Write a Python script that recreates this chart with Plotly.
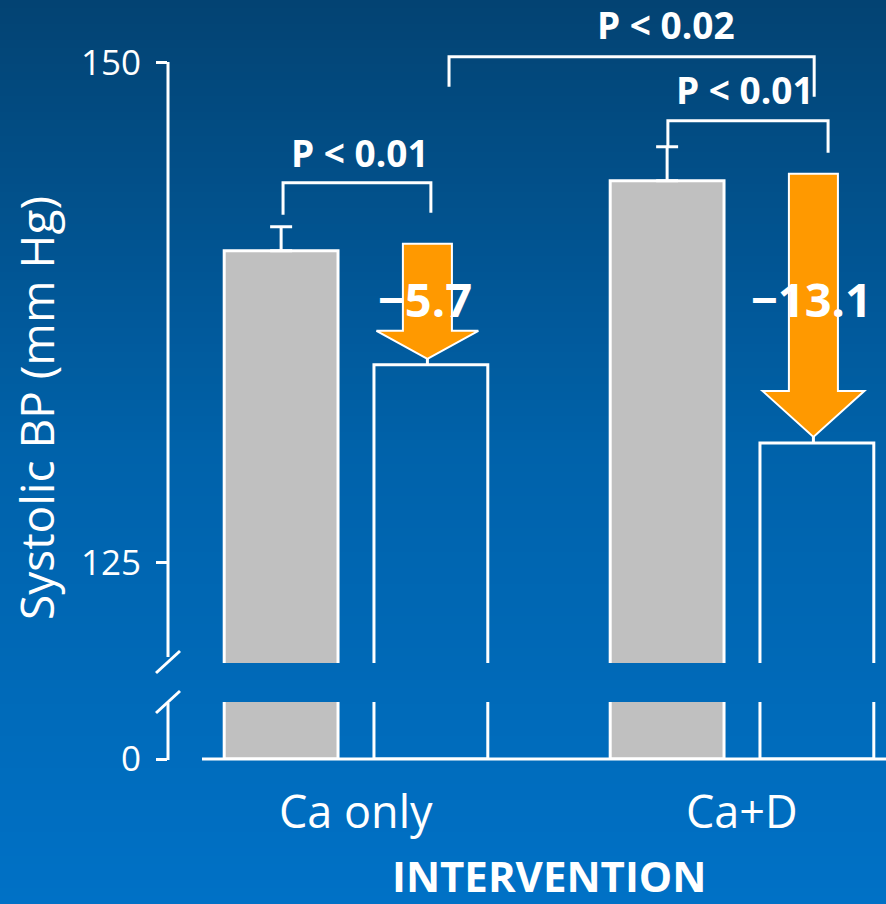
import plotly.graph_objects as go

# ---------------- data ----------------
categories = ["Ca only", "Ca+D"]
baseline_bp = [140.6, 144.1]      # grey bars (before)
followup_bp = [134.9, 131.0]      # open bars (after)
baseline_err = [1.2, 1.7]         # upper error bars on grey bars
change_labels = ["\u22125.7", "\u221213.1"]
top_ticks = [125, 150]
bottom_ticks = [0]
p_labels = ["P < 0.01", "P < 0.01", "P < 0.02"]

# ---------------- geometry helpers ----------------
W, H = 886, 904
FONT = "Open Sans"
WHITE = "white"
ORANGE = "#FF9900"
GREY = "#c0c0c0"


def px(x):
    return x / W


def py(y):
    return 1 - y / H


xpos = list(range(len(categories)))
x_left = (168 - 356) / 386
x_right = (W - 356) / 386

fig = go.Figure()

for yax in ["y", "y2"]:
    fig.add_trace(go.Bar(
        x=xpos, y=baseline_bp, yaxis=yax, showlegend=False, hoverinfo="skip",
        marker=dict(color=GREY, line=dict(color=WHITE, width=3)),
        error_y=(dict(type="data", array=baseline_err, arrayminus=[0] * len(baseline_err),
                      symmetric=False, color=WHITE, thickness=3, width=11)
                 if yax == "y" else dict(visible=False)),
    ))
    fig.add_trace(go.Bar(
        x=xpos, y=followup_bp, yaxis=yax, showlegend=False, hoverinfo="skip",
        marker=dict(color="rgba(0,0,0,0)", line=dict(color=WHITE, width=3)),
    ))

shapes = []

# background gradient (vertical)
stops = [(0, (3, 67, 115)), (450, (0, 98, 170)), (H, (0, 113, 198))]


def grad_color(y):
    for (y0, c0), (y1, c1) in zip(stops[:-1], stops[1:]):
        if y0 <= y <= y1:
            t = (y - y0) / (y1 - y0)
            return "rgb(%d,%d,%d)" % tuple(round(a + (b - a) * t) for a, b in zip(c0, c1))
    return "rgb(%d,%d,%d)" % stops[-1][1]


step = 8
for y in range(0, H, step):
    shapes.append(dict(type="rect", xref="paper", yref="paper", layer="below",
                       x0=0, x1=1, y0=py(min(y + step + 1, H)), y1=py(y),
                       fillcolor=grad_color(y + step / 2), line=dict(width=0)))

axis_line = dict(color=WHITE, width=3)
# y-axis line segments with break marks
shapes.append(dict(type="line", xref="paper", yref="paper", x0=px(168), x1=px(168),
                   y0=py(62), y1=py(657), line=axis_line))
shapes.append(dict(type="line", xref="paper", yref="paper", x0=px(168), x1=px(168),
                   y0=py(703), y1=py(760), line=axis_line))
shapes.append(dict(type="line", xref="paper", yref="paper", x0=px(156), x1=px(180),
                   y0=py(673), y1=py(651), line=axis_line))
shapes.append(dict(type="line", xref="paper", yref="paper", x0=px(156), x1=px(180),
                   y0=py(713), y1=py(691), line=axis_line))
# baseline
shapes.append(dict(type="line", xref="paper", yref="paper", x0=px(202), x1=1,
                   y0=py(759), y1=py(759), line=axis_line))

# significance brackets (x0, x1, y_top, y_leg_left, y_leg_right)
brackets = [(-0.189, 0.194, 144.0, 142.4, 142.5),
            (0.808, 1.223, 147.1, 145.8, 145.5),
            (0.241, 1.187, 150.3, 148.8, 148.3)]
for x0, x1, yt, yl, yr in brackets:
    shapes.append(dict(type="path", xref="x", yref="y", layer="above",
                       path=f"M {x0},{yl} L {x0},{yt} L {x1},{yt} L {x1},{yr}",
                       line=dict(color=WHITE, width=3)))

# change arrows from baseline to follow-up
head_len = [1.4, 2.3]
sw, hw = 0.0635, 0.132
arrow_x = []
for i in xpos:
    xc = i + 0.185
    arrow_x.append(xc)
    ytop = baseline_bp[i] + 0.35
    ytip = followup_bp[i] + 0.3
    ybase = ytip + head_len[i]
    shapes.append(dict(type="line", xref="x", yref="y", layer="above",
                       x0=xc, x1=xc, y0=ytip, y1=followup_bp[i],
                       line=dict(color=WHITE, width=3)))
    path = (f"M {xc - sw},{ytop} L {xc + sw},{ytop} L {xc + sw},{ybase} "
            f"L {xc + hw},{ybase} L {xc},{ytip} L {xc - hw},{ybase} "
            f"L {xc - sw},{ybase} Z")
    shapes.append(dict(type="path", xref="x", yref="y", layer="above", path=path,
                       fillcolor=ORANGE, line=dict(color=WHITE, width=2)))

annotations = []
# P labels
p_pos = [(0.010, 145.5), (1.008, 148.66), (0.803, 151.9)]
for t, (x, y) in zip(p_labels, p_pos):
    annotations.append(dict(x=x, y=y, xref="x", yref="y", text=f"<b>{t}</b>",
                            showarrow=False, xanchor="center", yanchor="middle",
                            font=dict(family=FONT, size=37, color=WHITE)))
# change labels
for i, t in enumerate(change_labels):
    annotations.append(dict(x=arrow_x[i] - 0.005, y=138.2, xref="x", yref="y",
                            text=f"<b>{t}</b>", showarrow=False,
                            xanchor="center", yanchor="middle",
                            font=dict(family=FONT, size=47, color=WHITE)))
# category labels
for i, c in enumerate(categories):
    annotations.append(dict(x=xpos[i], y=py(810), xref="x", yref="paper", text=c,
                            showarrow=False, xanchor="center", yanchor="middle",
                            font=dict(family=FONT, size=45, color=WHITE)))
# x-axis title (kept fully inside the picture)
annotations.append(dict(x=0.5, y=py(875), xref="x", yref="paper", text="<b>INTERVENTION</b>",
                        showarrow=False, xanchor="center", yanchor="middle",
                        font=dict(family=FONT, size=42, color=WHITE)))
# y-axis title
annotations.append(dict(x=px(36), y=py(408), xref="paper", yref="paper",
                        text="Systolic BP (mm Hg)", textangle=-90, showarrow=False,
                        xanchor="center", yanchor="middle",
                        font=dict(family=FONT, size=46, color=WHITE)))

tick_style = dict(ticks="outside", ticklen=11, tickwidth=3, tickcolor=WHITE,
                  tickfont=dict(family=FONT, size=35, color=WHITE),
                  showline=False, showgrid=False, zeroline=False, ticklabelstandoff=8,
                  fixedrange=True, automargin=False)

fig.update_layout(
    width=W, height=H,
    autosize=False,
    margin=dict(l=0, r=0, t=0, b=0, pad=0, autoexpand=False),
    paper_bgcolor="rgb(0,113,198)",
    plot_bgcolor="rgba(0,0,0,0)",
    barmode="group", bargap=0.224, bargroupgap=0.24,
    showlegend=False,
    xaxis=dict(domain=[px(168), 1], range=[x_left, x_right], anchor="y2",
               showticklabels=False, showgrid=False, zeroline=False, showline=False,
               ticks="", fixedrange=True, automargin=False),
    yaxis=dict(domain=[py(663), 1], range=[120, 150 + 62.7 / 20], anchor="x",
               tickvals=top_ticks, **tick_style),
    yaxis2=dict(domain=[py(759), py(702)], range=[0, 5], anchor="x",
                tickvals=bottom_ticks, **tick_style),
    shapes=shapes,
    annotations=annotations,
)

fig.write_html(
    "out.html",
    config={"responsive": False, "displayModeBar": False},
    post_script="document.body.style.margin='0';document.body.style.padding='0';"
                "document.body.style.overflow='hidden';"
                "document.documentElement.style.overflow='hidden';",
)
